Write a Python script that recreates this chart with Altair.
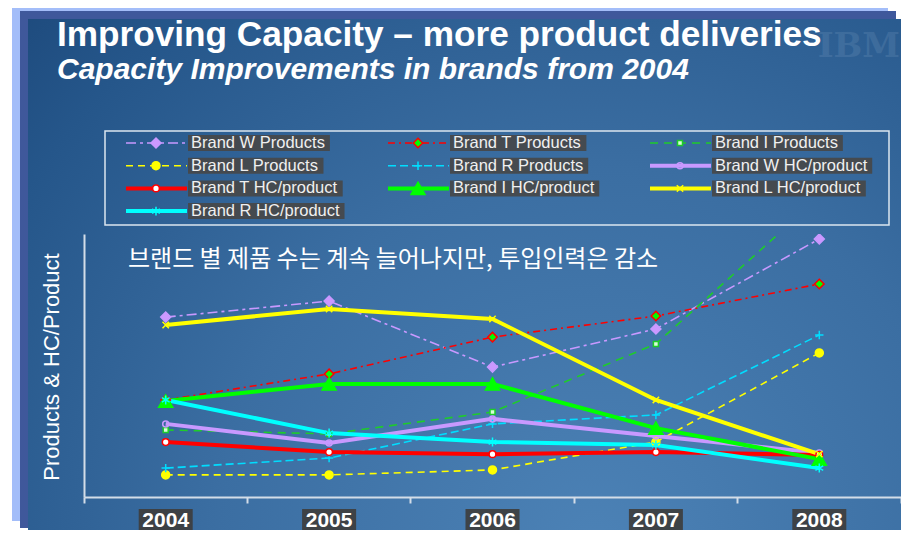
import altair as alt
import pandas as pd

# ---------------- data ----------------
years = ["2004", "2005", "2006", "2007", "2008"]
series = [
    "Brand W Products", "Brand T Products", "Brand I Products",
    "Brand L Products", "Brand R Products", "Brand W HC/product",
    "Brand T HC/product", "Brand I HC/product", "Brand L HC/product",
    "Brand R HC/product",
]
w_products = [68.4, 74.5, 49.4, 63.9, 98.1]
t_products = [36.9, 46.8, 60.8, 68.8, 81.0]
i_products = [25.5, 24.0, 32.3, 58.2, 114.0]
l_products = [8.4, 8.4, 10.3, 20.9, 54.8]
r_products = [11.0, 14.8, 27.8, 31.2, 61.6]
w_hc = [27.8, 20.5, 29.7, 23.2, 16.7]
t_hc = [20.9, 17.1, 16.3, 17.1, 16.0]
i_hc = [36.5, 43.0, 43.0, 26.2, 14.4]
l_hc = [65.4, 71.5, 67.7, 36.9, 16.3]
r_hc = [36.9, 24.3, 20.9, 19.8, 11.0]
all_values = [w_products, t_products, i_products, l_products, r_products,
              w_hc, t_hc, i_hc, l_hc, r_hc]

title_text = "Improving Capacity \u2013 more product deliveries"
subtitle_text = "Capacity Improvements in brands from 2004"
note_text = "브랜드 별 제품 수는 계속 늘어나지만, 투입인력은 감소"
ytitle_text = "Products & HC/Product"

# ---------------- styles ----------------
PLUS = "M-1,0L1,0M0,-1L0,1"
XMARK = "M-0.8,-0.8L0.8,0.8M-0.8,0.8L0.8,-0.8"
STAR = "M0,-1L0,1M-0.87,-0.5L0.87,0.5M-0.87,0.5L0.87,-0.5"
line_colors = ["#c899ff", "#ff0000", "#1ecc2a", "#ffff00", "#00ddff",
               "#c899ff", "#ff0000", "#00ff00", "#ffff00", "#00ffff"]
dashes = [[10, 4, 3, 4], [7, 4, 2, 4], [8, 6], [7, 5], [8, 4],
          [1, 0], [1, 0], [1, 0], [1, 0], [1, 0]]
shapes = ["diamond", "diamond", "square", "circle", PLUS,
          "circle", "circle", "triangle-up", XMARK, STAR]
fills = ["#cc99ff", "#00ff00", "#d8ffd8", "#ffff00", "transparent",
         "transparent", "#ffffff", "#00ff00", "transparent", "transparent"]
msizes = [100, 90, 25, 64, 70, 36, 45, 200, 64, 80]
lwidths = [1.6] * 5 + [4] * 5

AXC = "#d3dde8"
FONT = "Liberation Sans"

rows = []
for i, (name, vals) in enumerate(zip(series, all_values)):
    for yr, v in zip(years, vals):
        rows.append({"series": name, "year": yr, "value": v,
                     "kind": "HC" if "HC" in name else "P",
                     "msize": msizes[i]})
df = pd.DataFrame(rows)

stroke_enc = alt.Stroke("series:N", scale=alt.Scale(domain=series, range=line_colors), legend=None)
dash_enc = alt.StrokeDash("series:N", scale=alt.Scale(domain=series, range=dashes), legend=None)
shape_enc = alt.Shape("series:N", scale=alt.Scale(domain=series, range=shapes), legend=None)
fill_enc = alt.Fill("series:N", scale=alt.Scale(domain=series, range=fills), legend=None)

x_enc = alt.X("year:N", sort=years,
              scale=alt.Scale(type="band", paddingInner=0, paddingOuter=0),
              axis=alt.Axis(labels=False, title=None, grid=False, bandPosition=1,
                            tickExtra=True, domainColor=AXC, domainWidth=2,
                            tickColor=AXC, tickWidth=2, tickSize=6, zindex=1))
y_enc = alt.Y("value:Q", scale=alt.Scale(domain=[0, 100], nice=False, zero=False),
              axis=alt.Axis(labels=False, ticks=False, title=None, grid=False,
                            domainColor=AXC, domainWidth=2, zindex=1))

base = alt.Chart(df)
lines_p = base.transform_filter(alt.datum.kind == "P").mark_line(
    clip=True, strokeWidth=1.6).encode(x=x_enc, y=y_enc, stroke=stroke_enc, strokeDash=dash_enc)
lines_hc = base.transform_filter(alt.datum.kind == "HC").mark_line(
    clip=True, strokeWidth=4).encode(x=x_enc, y=y_enc, stroke=stroke_enc)
points = base.mark_point(clip=True, opacity=1, strokeWidth=1.5).encode(
    x=x_enc, y=y_enc, shape=shape_enc, fill=fill_enc, stroke=stroke_enc,
    size=alt.Size("msize:Q", scale=None))

ydf = pd.DataFrame({"year": years})
xl_box = alt.Chart(ydf).mark_bar(width=54, color="#3e3e3e", opacity=0.92).encode(
    x=x_enc, y=alt.value(275), y2=alt.value(300))
xl_text = alt.Chart(ydf).mark_text(font=FONT, fontSize=21, fontWeight="bold",
                                   color="white", baseline="alphabetic").encode(
    x=x_enc, y=alt.value(293), text="year:N")

data_layer = alt.layer(lines_p, lines_hc, points, xl_box, xl_text)

# ---------------- legend ----------------
ARIAL = {'B': 667, 'r': 333, 'a': 556, 'n': 556, 'd': 556, ' ': 278, 'W': 944,
         'T': 611, 'I': 278, 'L': 556, 'R': 722, 'P': 667, 'o': 556, 'u': 556,
         'c': 500, 't': 278, 's': 500, 'H': 722, 'C': 722, '/': 278, 'p': 556}
LEG_FS = 16.5
LEG_X0, LEG_DX, LEG_Y0, LEG_DY = 42, 262, -91, 22.7
leg = pd.DataFrame({"series": series})
leg["col"] = leg.index % 3
leg["row"] = leg.index // 3
leg["sx1"] = LEG_X0 + leg["col"] * LEG_DX
leg["sx2"] = leg["sx1"] + 61
leg["sxm"] = leg["sx1"] + 30
leg["ly"] = LEG_Y0 + leg["row"] * LEG_DY
leg["bx1"] = leg["sx1"] + 62
leg["bx2"] = leg["bx1"] + leg["series"].map(lambda s: sum(ARIAL.get(c, 556) for c in s) * LEG_FS / 1000 + 8)
leg["by1"] = leg["ly"] - 8
leg["by2"] = leg["ly"] + 8
leg["tx"] = leg["bx1"] + 3
leg["lw"] = lwidths
leg["msize"] = msizes

lbase = alt.Chart(leg)
leg_rule = lbase.mark_rule().encode(
    x=alt.X("sx1:Q", scale=None, axis=None), x2="sx2:Q",
    y=alt.Y("ly:Q", scale=None, axis=None),
    stroke=stroke_enc, strokeDash=dash_enc,
    strokeWidth=alt.StrokeWidth("lw:Q", scale=None))
leg_pt = lbase.mark_point(opacity=1, strokeWidth=1.5).encode(
    x=alt.X("sxm:Q", scale=None, axis=None), y=alt.Y("ly:Q", scale=None, axis=None),
    shape=shape_enc, fill=fill_enc, stroke=stroke_enc,
    size=alt.Size("msize:Q", scale=None))
leg_box = lbase.mark_rect(color="#474747", opacity=0.9).encode(
    x=alt.X("bx1:Q", scale=None, axis=None), x2="bx2:Q",
    y=alt.Y("by1:Q", scale=None, axis=None), y2="by2:Q")
leg_txt = lbase.mark_text(font=FONT, fontSize=LEG_FS, color="#f0f0f0",
                          align="left", baseline="middle").encode(
    x=alt.X("tx:Q", scale=None, axis=None), y=alt.Y("ly:Q", scale=None, axis=None),
    text="series:N")
legend_layer = alt.layer(leg_rule, leg_pt, leg_box, leg_txt)

# ---------------- decoration ----------------
one = pd.DataFrame({"k": [0]})
bg_light = alt.Chart(one).mark_rect(color="#a3bdf9").encode(
    x=alt.value(-72), x2=alt.value(804), y=alt.value(-231), y2=alt.value(287))
bg_purple = alt.Chart(one).mark_rect(color="#3f589b").encode(
    x=alt.value(-64), x2=alt.value(812), y=alt.value(-223), y2=alt.value(294))
grad = {"gradient": "radial", "x1": 0.64, "y1": 0.8, "r1": 0, "x2": 0.64, "y2": 0.8, "r2": 0.95,
        "stops": [{"offset": 0, "color": "#4c82b6"}, {"offset": 0.45, "color": "#3b6ea2"},
                  {"offset": 0.8, "color": "#25568a"}, {"offset": 1, "color": "#1a4577"}]}
bg_main = alt.Chart(one).mark_rect(fill=grad).encode(
    x=alt.value(-56), x2=alt.value(830), y=alt.value(-215), y2=alt.value(310))
ibm = alt.Chart(one).mark_text(font="DejaVu Serif", fontSize=34, fontWeight="bold",
                               color="#a8c0de", opacity=0.14, align="right",
                               baseline="alphabetic").encode(
    x=alt.value(816), y=alt.value(-177), text=alt.value("IBM"))
title = alt.Chart(one).mark_text(font=FONT, fontSize=35.2, fontWeight="bold", color="white",
                                 align="left", baseline="alphabetic").encode(
    x=alt.value(-27), y=alt.value(-188), text=alt.value(title_text))
subtitle = alt.Chart(one).mark_text(font=FONT, fontSize=30, fontWeight="bold",
                                    fontStyle="italic", color="white",
                                    align="left", baseline="alphabetic").encode(
    x=alt.value(-27), y=alt.value(-155), text=alt.value(subtitle_text))
legend_frame = alt.Chart(one).mark_rect(fill=None, stroke="#dce6f0", strokeWidth=1.5).encode(
    x=alt.value(21), x2=alt.value(805), y=alt.value(-103), y2=alt.value(-9))
note = alt.Chart(one).mark_text(font="Noto Sans CJK KR", fontSize=24, color="white",
                                align="left", baseline="middle").encode(
    x=alt.value(44), y=alt.value(26), text=alt.value(note_text))
ytitle = alt.Chart(one).mark_text(font=FONT, fontSize=22, color="white", angle=270,
                                  align="center", baseline="middle").encode(
    x=alt.value(-32), y=alt.value(133), text=alt.value(ytitle_text))

chart = alt.layer(
    bg_light, bg_purple, bg_main, ibm, title, subtitle, legend_frame,
    legend_layer, note, ytitle, data_layer
).resolve_scale(x="independent", y="independent").properties(
    width=817, height=263,
    padding={"left": 76, "top": 226, "right": 0, "bottom": 33},
    autosize=alt.AutoSizeParams(type="none"),
    background="white",
).configure_view(stroke=None)

chart.save("out.html", embed_options={"renderer": "svg", "actions": False})
